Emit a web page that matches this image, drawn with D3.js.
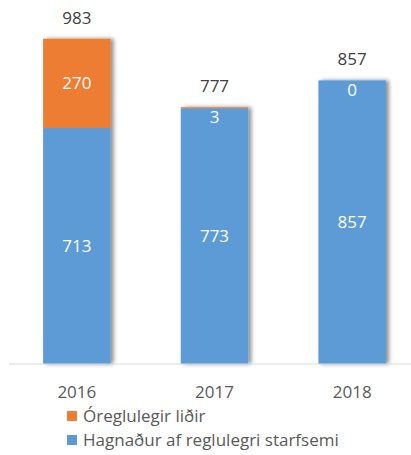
<!DOCTYPE html>
<html>
<head>
<meta charset="utf-8">
<script src="https://cdn.jsdelivr.net/npm/d3@7"></script>
<style>
  body { margin: 0; background: #fff; }
  svg { display: block; }
</style>
</head>
<body>
<div id="chart"></div>
<script>
// data
const years = ["2016", "2017", "2018"];
const hagnadur = [713, 773, 857];   // Hagnaður af reglulegri starfsemi
const oreglulegir = [270, 3, 0];     // Óreglulegir liðir
const totals = [983, 777, 857];
const seriesNames = ["Óreglulegir liðir", "Hagnaður af reglulegri starfsemi"];
const seriesColors = ["#ED7D31", "#5B9BD5"];

const width = 411, height = 455;
const font = "'Open Sans', sans-serif";

const svg = d3.select("#chart").append("svg")
    .attr("width", width)
    .attr("height", height);

// soft shadow on the right of each bar
const defs = svg.append("defs");
defs.append("filter")
    .attr("id", "shadow")
    .attr("x", "-20%").attr("y", "-10%")
    .attr("width", "150%").attr("height", "120%")
    .append("feDropShadow")
    .attr("dx", 3).attr("dy", 0)
    .attr("stdDeviation", 2)
    .attr("flood-color", "#000")
    .attr("flood-opacity", 0.45);

const rows = years.map((y, i) => ({ year: y, blue: hagnadur[i], orange: oreglulegir[i], total: totals[i] }));

// scales
const x = d3.scaleBand()
    .domain(years)
    .range([8, 421])
    .paddingInner(0.51)
    .paddingOuter(0.255);

const y = d3.scaleLinear()
    .domain([0, 1100])
    .range([364, 0]);

// bars
const bars = svg.append("g");
const grp = bars.selectAll("g")
    .data(rows)
    .enter()
    .append("g")
    .attr("filter", "url(#shadow)");

grp.append("rect")
    .attr("x", d => x(d.year))
    .attr("width", x.bandwidth())
    .attr("y", d => y(d.blue))
    .attr("height", d => y(0) - y(d.blue))
    .attr("fill", seriesColors[1]);

grp.append("rect")
    .attr("x", d => x(d.year))
    .attr("width", x.bandwidth())
    .attr("y", d => y(d.blue + d.orange))
    .attr("height", d => y(d.blue) - y(d.blue + d.orange))
    .attr("fill", seriesColors[0]);

// axis line
const xAxis = d3.axisBottom(x).tickSize(0).tickPadding(22);
const axisG = svg.append("g")
    .attr("transform", `translate(0, ${y(0)})`)
    .call(xAxis);
axisG.select(".domain").remove();
axisG.append("line")
    .attr("x1", 9).attr("x2", width)
    .attr("stroke", "#d9d9d9")
    .attr("stroke-width", 1);
axisG.selectAll("text")
    .style("font-family", font)
    .style("font-size", "17px")
    .attr("fill", "#595959");

// labels inside segments
svg.append("g").selectAll("text")
    .data(rows)
    .enter()
    .append("text")
    .text(d => d.blue)
    .attr("x", d => x(d.year) + x.bandwidth() / 2)
    .attr("y", d => (y(0) + y(d.blue)) / 2)
    .attr("dy", "0.35em")
    .attr("text-anchor", "middle")
    .style("font-family", font)
    .style("font-size", "17px")
    .attr("fill", "#fff");

svg.append("g").selectAll("text")
    .data(rows)
    .enter()
    .append("text")
    .text(d => d.orange)
    .attr("x", d => x(d.year) + x.bandwidth() / 2)
    .attr("y", d => Math.max((y(d.blue) + y(d.blue + d.orange)) / 2, y(d.total) + 10))
    .attr("dy", "0.35em")
    .attr("text-anchor", "middle")
    .style("font-family", font)
    .style("font-size", "17px")
    .attr("fill", "#fff");

// totals above bars
svg.append("g").selectAll("text")
    .data(rows)
    .enter()
    .append("text")
    .text(d => d.total)
    .attr("x", d => x(d.year) + x.bandwidth() / 2)
    .attr("y", d => y(d.total) - 15)
    .attr("text-anchor", "middle")
    .style("font-family", font)
    .style("font-size", "17px")
    .attr("fill", "#404040");

// legend
const legend = svg.append("g")
    .attr("transform", "translate(67, 0)");
const item = legend.selectAll("g")
    .data(seriesNames)
    .enter()
    .append("g")
    .attr("transform", (d, i) => `translate(0, ${411 + i * 24})`);
item.append("rect")
    .attr("width", 10)
    .attr("height", 10)
    .attr("fill", (d, i) => seriesColors[i]);
item.append("text")
    .text(d => d)
    .attr("x", 16)
    .attr("y", 11)
    .style("font-family", font)
    .style("font-size", "17px")
    .attr("fill", "#595959");
</script>
</body>
</html>
